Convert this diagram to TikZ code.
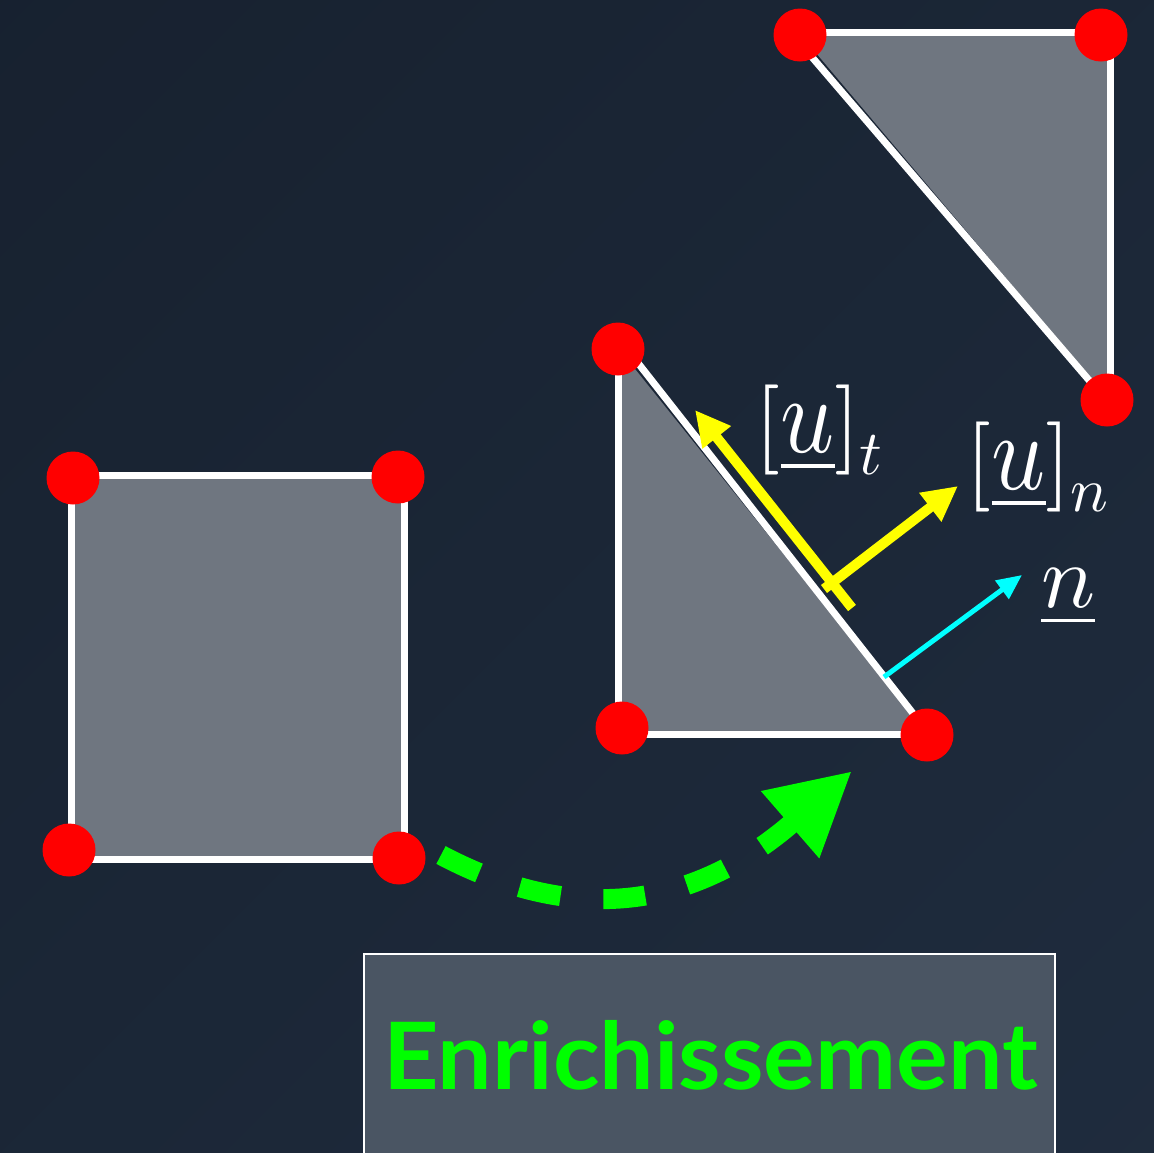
\documentclass[tikz,border=0pt]{standalone}
\usepackage{unicode-math}
\newfontfamily\lato{Lato}
\usetikzlibrary{arrows.meta}
\definecolor{bgA}{RGB}{23,33,47}
\definecolor{bgB}{RGB}{31,44,62}
\definecolor{elemgray}{RGB}{111,118,128}
\definecolor{boxfill}{RGB}{74,85,99}
\definecolor{ptred}{RGB}{255,0,0}
\definecolor{enrgreen}{RGB}{0,255,0}
\definecolor{ycol}{RGB}{255,255,0}
\definecolor{ccol}{RGB}{0,255,255}
\newcommand{\bigu}{\underline{\scalebox{1.05}[1.22]{$u$}}}
\begin{document}
\begin{tikzpicture}[x=1pt,y=-1pt,
  edge/.style={white, line width=7pt, line cap=round},
  elem/.style={fill=elemgray},
  nodept/.style={circle, fill=ptred, minimum size=53pt, inner sep=0pt},
  lab/.style={text=white, inner sep=0pt, anchor=base west, font=\fontsize{90}{100}\selectfont},
  yarrow/.style={draw=ycol, line width=10pt, -{Triangle[length=35pt,width=34pt]}},
  carrow/.style={draw=ccol, line width=5pt, -{Triangle[length=25pt,width=22pt]}},
  garrow/.style={draw=enrgreen, line width=20pt, dash pattern=on 42pt off 43pt, -{Triangle[length=82pt,width=83pt]}}
  ]
\useasboundingbox (0,0) rectangle (1154,1152);
\shade[shading=axis, top color=bgA, bottom color=bgB, shading angle=45] (-300,-300) rectangle (1454,1452);

% quadrilateral element
\fill[elem] (72,476) rectangle (404,858);
\draw[edge, line cap=butt] (71,475) -- (404,475) -- (404,859) -- (71,859) -- cycle;

% middle triangle
\fill[elem] (619,349) -- (619,733) -- (927,733) -- cycle;
\draw[edge] (618,349) -- (618,734) -- (927,734);
\draw[edge] (627,349) -- (930,735);

% top-right triangle
\fill[elem] (800,34) -- (1109,34) -- (1109,400) -- cycle;
\draw[edge] (800,32) -- (1101,32);
\draw[edge] (1110,35) -- (1110,400);
\draw[edge] (793,35) -- (1106,400);

% vectors
\coordinate (ts) at (852,608);
\coordinate (te) at (695,410);
\coordinate (ns) at (824,589);
\coordinate (ne) at (958,486);
\coordinate (cs) at (884,677);
\coordinate (ce) at (1022,575);
\draw[yarrow] (ts) -- (te);
\draw[yarrow] (ns) -- (ne);
\draw[carrow] (cs) -- (ce);

% labels
\node[lab] (lt) at (755,452) {$[\bigu]_t$};
\node[lab] (ln) at (966,489) {$[\bigu]_n$};
\node[lab] (lnn) at (1041,607) {$\underline{n}$};

% enrichment arrow
\coordinate (gs) at (441,855);
\coordinate (ge) at (852,771);
\draw[garrow] (gs) .. controls (600,939) and (716,889) .. (ge);

% nodes (points)
\node[nodept] (q1) at (73,478) {};
\node[nodept] (q2) at (398,477) {};
\node[nodept] (q3) at (399,858) {};
\node[nodept] (q4) at (69,850) {};
\node[nodept] (m1) at (618,349) {};
\node[nodept] (m2) at (622,728) {};
\node[nodept] (m3) at (927,735) {};
\node[nodept] (r1) at (800,35) {};
\node[nodept] (r2) at (1101,35) {};
\node[nodept] (r3) at (1107,400) {};

% box
\draw[white, line width=2pt, fill=boxfill] (364,954) rectangle (1055,1165);
\node[anchor=base west, inner sep=0pt, text=enrgreen, font=\lato\bfseries\fontsize{93}{100}\selectfont] (enr) at (383,1089) {\scalebox{1.04}[1]{Enrichissement}};
\end{tikzpicture}
\end{document}
